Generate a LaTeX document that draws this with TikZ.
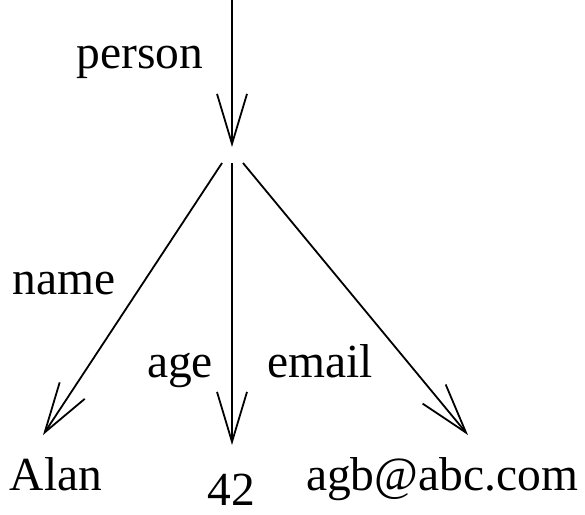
\documentclass[tikz,border=0pt]{standalone}
\usepackage{fontspec}
\setmainfont{Liberation Serif}
\usetikzlibrary{arrows.meta}
\begin{document}
\begin{tikzpicture}[x=1pt,y=-1pt,
  edge/.style={line width=1.8pt,-{Straight Barb[length=50pt,width=30pt,line width=1.8pt]}},
  lbl/.style={inner sep=0pt,anchor=base,font=\fontsize{47.5}{57}\selectfont}]
\useasboundingbox (0,0) rectangle (585,514);
% entry edge into the root object
\coordinate (in) at (232,0);
\coordinate (root) at (232,147);
\node[lbl] (lperson) at (140,68) {person};
\draw[edge] (in) -- (root);
% fields of the object
\coordinate (sname) at (222,163);
\coordinate (sage) at (232,163);
\coordinate (semail) at (243,163);
\coordinate (tname) at (43,435);
\coordinate (tage) at (232,445);
\coordinate (temail) at (468,435);
\draw[edge] (sname) -- (tname);
\draw[edge] (sage) -- (tage);
\draw[edge] (semail) -- (temail);
\node[lbl] (lname) at (64,294) {name};
\node[lbl] (lage) at (180,377) {age};
\node[lbl] (lemail) at (320,377) {email};
% leaf values
\node[lbl] (alan) at (56,490) {Alan};
\node[lbl] (num) at (231,505) {42};
\node[lbl] (mail) at (442,490) {agb@abc.com};
\end{tikzpicture}
\end{document}
